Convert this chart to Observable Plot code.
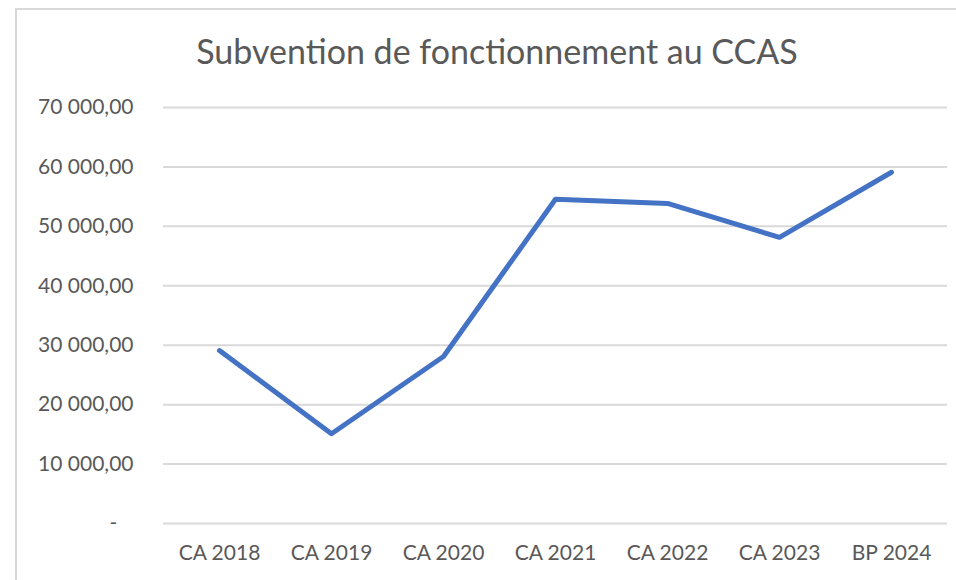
<!DOCTYPE html>
<html>
<head>
<meta charset="utf-8">
<script src="https://cdn.jsdelivr.net/npm/d3@7"></script>
<script src="https://cdn.jsdelivr.net/npm/@observablehq/plot@0.6"></script>
<style>
  html, body { margin: 0; padding: 0; background: #fff; }
  #wrap { position: relative; width: 956px; height: 580px; overflow: hidden; }
  #frame { position: absolute; left: 15px; top: 8px; width: 2000px; height: 2000px;
           border-left: 2px solid #d9d9d9; border-top: 2px solid #d9d9d9; box-sizing: border-box; }
  #title { position: relative; height: 75px; text-align: center; font-family: Lato, sans-serif;
           font-size: 34px; color: #595959; line-height: 102px; padding-left: 38px; box-sizing: border-box; }
  #chart { position: relative; }
  svg { display: block; }
</style>
</head>
<body>
<div id="wrap">
  <div id="frame"></div>
  <div id="title"><div style="height:75px">Subvention de fonctionnement au CCAS</div></div>
  <div id="chart"></div>
</div>
<script>
const categories = ["CA 2018", "CA 2019", "CA 2020", "CA 2021", "CA 2022", "CA 2023", "BP 2024"];
const values = [29100, 15100, 28100, 54550, 53850, 48150, 59100];
const yTicks = [0, 10000, 20000, 30000, 40000, 50000, 60000, 70000];

const data = categories.map((c, i) => ({category: c, value: values[i]}));

function fmt(d) {
  if (d === 0) return "-\u00a0\u00a0\u00a0";
  const s = d3.format(",.2f")(d);
  return s.replace(/,/g, " ").replace(".", ",");
}

const chart = Plot.plot({
  width: 956,
  height: 505,
  marginTop: 32,
  marginBottom: 57,
  marginLeft: 163,
  marginRight: 9,
  style: { fontFamily: "Lato, sans-serif", fontSize: "21px", color: "#595959", background: "transparent" },
  x: { type: "point", domain: categories, padding: 0.5, label: null },
  y: { domain: [0, 70000], label: null },
  marks: [
    Plot.ruleY(yTicks, { stroke: "#d9d9d9", strokeWidth: 2 }),
    Plot.axisY({ ticks: yTicks, tickFormat: fmt, tickSize: 0, tickPadding: 30, label: null, fill: "#595959" }),
    Plot.axisX({ tickSize: 0, tickPadding: 22, label: null, fill: "#595959" }),
    Plot.line(data, { x: "category", y: "value", stroke: "#4472C4", strokeWidth: 5,
                      strokeLinecap: "round", strokeLinejoin: "round" })
  ]
});
document.getElementById("chart").appendChild(chart);
</script>
</body>
</html>
